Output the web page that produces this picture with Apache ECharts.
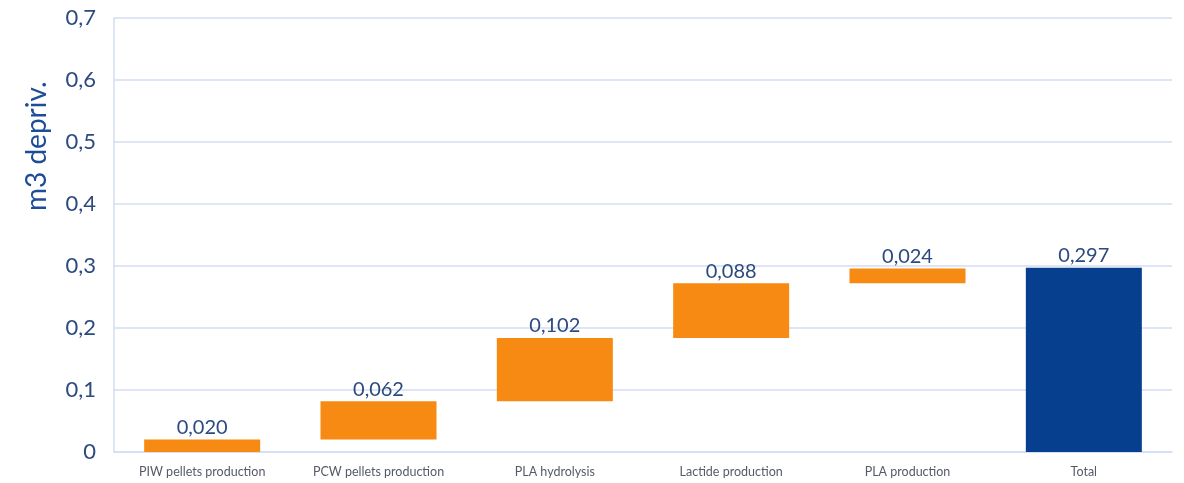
<!DOCTYPE html>
<html><head><meta charset="utf-8">
<script src="https://cdn.jsdelivr.net/npm/echarts@6/dist/echarts.min.js"></script>
<style>html,body{margin:0;padding:0;background:#fff}#c{width:1184px;height:483px}</style>
</head><body><div id="c"></div>
<script>
const categories = ['PIW pellets production','PCW pellets production','PLA hydrolysis','Lactide production','PLA production','Total'];
const stepValues = [0.020, 0.062, 0.102, 0.088, 0.024];
const totalValue = 0.297;
const yTicks = [0, 0.1, 0.2, 0.3, 0.4, 0.5, 0.6, 0.7];

const bases = [];
let acc = 0;
stepValues.forEach(v => { bases.push(acc); acc += v; });
bases.push(0);
const visible = stepValues.map(v => ({value: v}));
visible.push({value: totalValue, itemStyle: {color: '#073f8f'}});

const fmt = v => v.toFixed(3).replace('.', ',');
const chart = echarts.init(document.getElementById('c'));
chart.setOption({
  animation: false,
  textStyle: {fontFamily: 'Lato'},
  grid: {left: 114, right: 12, top: 18, bottom: 31},
  graphic: [{
    type: 'text', x: 37, y: 211, rotation: Math.PI / 2,
    style: {text: 'm3 depriv.', fontSize: 28, fill: '#1d4d97', fontFamily: 'Lato',
            textAlign: 'left', textVerticalAlign: 'middle'}
  }],
  xAxis: {
    type: 'category', data: categories,
    axisLine: {lineStyle: {color: '#d3def3', width: 1.5}},
    axisTick: {show: false},
    axisLabel: {color: '#555b66', fontSize: 12.5, margin: 13}
  },
  yAxis: {
    type: 'value', min: 0, max: 0.7, interval: 0.1,
    axisLine: {show: true, lineStyle: {color: '#d3def3', width: 1.5}},
    axisTick: {show: false},
    splitLine: {lineStyle: {color: '#d3def3', width: 1.5}},
    axisLabel: {
      color: '#2c4a7e', fontSize: 22, margin: 18,
      formatter: v => v === 0 ? '0' : v.toFixed(1).replace('.', ',')
    }
  },
  series: [
    {type: 'bar', stack: 'w', data: bases, itemStyle: {color: 'transparent'}, barWidth: 116, silent: true},
    {type: 'bar', stack: 'w', data: visible, barWidth: 116,
     itemStyle: {color: '#f68a12'},
     label: {show: true, position: 'top', distance: 2, color: '#2c4a7e', fontSize: 20,
             formatter: p => fmt(p.value)}}
  ]
});
</script></body></html>
